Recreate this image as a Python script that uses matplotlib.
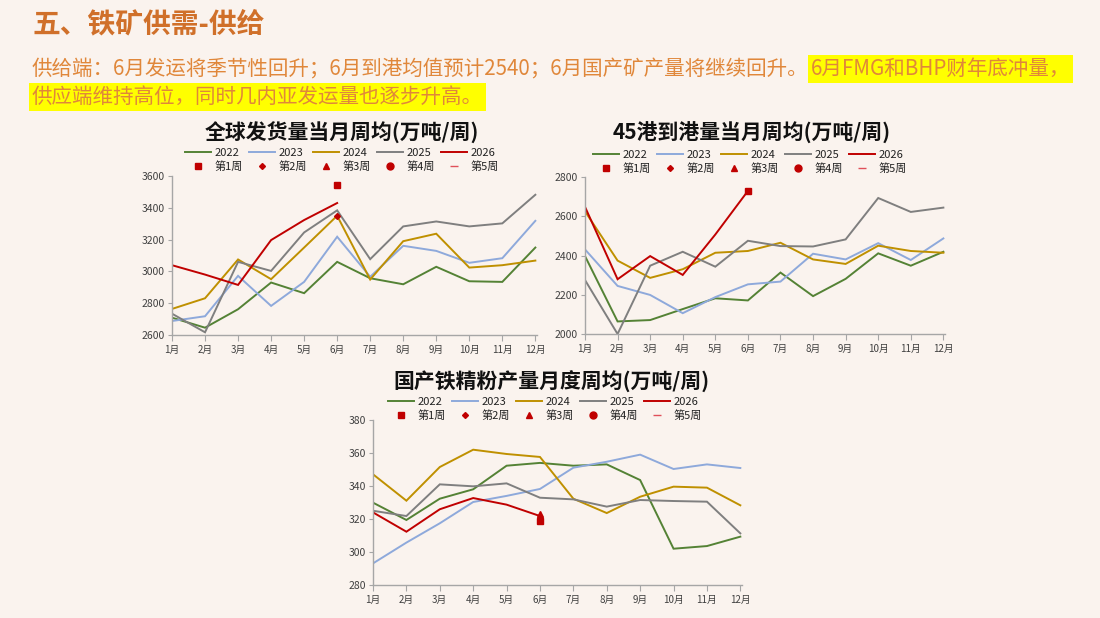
import numpy as np
import matplotlib
matplotlib.use('Agg')
import matplotlib.pyplot as plt
from matplotlib.lines import Line2D

plt.rcParams['font.family'] = ['Noto Sans CJK SC', 'DejaVu Sans']

## Data ########################

months = [f'{i}月' for i in range(1, 13)]
years = ['2022', '2023', '2024', '2025', '2026']
weeks = ['第1周', '第2周', '第3周', '第4周', '第5周']

# 全球发货量当月周均
ship_2022 = [2709, 2646, 2762, 2930, 2863, 3060, 2957, 2919, 3029, 2938, 2934, 3150]
ship_2023 = [2688, 2718, 2972, 2783, 2934, 3218, 2966, 3161, 3129, 3054, 3083, 3318]
ship_2024 = [2764, 2831, 3075, 2951, 3150, 3350, 2949, 3190, 3237, 3024, 3039, 3068]
ship_2025 = [2734, 2617, 3060, 3003, 3245, 3384, 3077, 3283, 3314, 3283, 3302, 3482]
ship_2026 = [3039, 2980, 2915, 3197, 3323, 3430]
ship_weeks = {'第1周': 3545, '第2周': 3346}

# 45港到港量当月周均
port_2022 = [2397, 2064, 2071, 2127, 2182, 2171, 2313, 2193, 2281, 2411, 2348, 2419]
port_2023 = [2431, 2245, 2199, 2106, 2188, 2253, 2267, 2409, 2380, 2463, 2377, 2487]
port_2024 = [2625, 2374, 2286, 2330, 2414, 2423, 2465, 2380, 2357, 2450, 2423, 2414]
port_2025 = [2275, 2000, 2348, 2419, 2343, 2475, 2448, 2446, 2482, 2693, 2622, 2644]
port_2026 = [2648, 2279, 2397, 2301, 2507, 2729]
port_weeks = {'第1周': 2729}

# 国产铁精粉产量月度周均
conc_2022 = [329.9, 319.4, 332.3, 338.0, 352.3, 354.0, 352.3, 353.1, 343.6, 302.0, 303.6, 309.3]
conc_2023 = [293.1, 305.7, 317.4, 330.3, 334.0, 338.2, 351.1, 354.7, 359.0, 350.3, 353.1, 350.9]
conc_2024 = [347.1, 331.1, 351.5, 362.0, 359.4, 357.6, 332.3, 323.6, 333.5, 339.6, 339.0, 328.3]
conc_2025 = [325.0, 321.8, 341.0, 339.8, 341.6, 332.9, 331.9, 327.5, 331.5, 330.9, 330.5, 311.3]
conc_2026 = [324.0, 312.3, 325.9, 332.7, 328.7, 321.8]
conc_weeks = {'第1周': 318.6, '第3周': 323.0}

## Styles ########################

bg = '#FAF3EE'
year_colors = ['#548235', '#8EA9DB', '#BF9000', '#7F7F7F', '#C00000']
week_style = {
    '第1周': dict(marker='s', ms=5),
    '第2周': dict(marker='D', ms=3),
    '第3周': dict(marker='^', ms=5),
    '第4周': dict(marker='o', ms=5),
    '第5周': dict(marker='_', ms=6),
}
red = '#C00000'
W, H = 1100, 618

fig = plt.figure(figsize=(11, 6.18), dpi=100, facecolor=bg)


def fx(px):
    return px / W


def fy(py):
    return 1 - py / H


def panel(box, title, title_xy, leg_xy, series, marks, ylim, yticks):
    l, t, r, b = box
    ax = fig.add_axes([fx(l), fy(b), fx(r - l), fy(t) - fy(b)])
    ax.set_facecolor(bg)
    x = np.arange(12)
    for vals, c in zip(series, year_colors):
        ax.plot(x[:len(vals)], vals, color=c, lw=1.4, solid_joinstyle='miter')
    for wk, v in marks.items():
        st = week_style[wk]
        ax.plot([5], [v], ls='none', color=red, marker=st['marker'], ms=st['ms'])
    ax.set_xlim(0, 11.05)
    ax.set_ylim(*ylim)
    ax.set_yticks(yticks)
    ax.set_xticks(x)
    ax.set_xticklabels(months)
    for s in ['top', 'right']:
        ax.spines[s].set_visible(False)
    for s in ['left', 'bottom']:
        ax.spines[s].set_color('#A6A6A6')
        ax.spines[s].set_linewidth(1.0)
    ax.tick_params(axis='x', labelsize=7, colors='#A6A6A6', labelcolor='#404040',
                   length=4, pad=3)
    ax.tick_params(axis='y', labelsize=7.5, colors='#A6A6A6', labelcolor='#404040',
                   length=3, pad=2)

    fig.text(fx(title_xy[0]), fy(title_xy[1]), title, ha='center', va='center',
             fontsize=15, fontweight='bold', color='#111111')

    handles, labels = [], []
    for i in range(5):
        handles.append(Line2D([], [], color=year_colors[i], lw=1.4))
        labels.append(years[i])
        st = week_style[weeks[i]]
        handles.append(Line2D([], [], ls='none', color=red if i < 4 else '#E0505A',
                              marker=st['marker'], ms=st['ms']))
        labels.append(weeks[i])
    fig.legend(handles, labels, ncol=5, loc='center',
               bbox_to_anchor=(fx(leg_xy[0]), fy(leg_xy[1])),
               frameon=False, fontsize=8, handlelength=2.3, handletextpad=0.35,
               columnspacing=0.55, labelspacing=0.3, borderpad=0,
               labelcolor='#222222')
    return ax


panel((172, 176, 537, 335), '全球发货量当月周均(万吨/周)', (342, 133), (342, 160),
      [ship_2022, ship_2023, ship_2024, ship_2025, ship_2026], ship_weeks,
      (2600, 3600), np.arange(2600, 3601, 200))

panel((585, 177, 945, 334), '45港到港量当月周均(万吨/周)', (752, 133), (750, 162),
      [port_2022, port_2023, port_2024, port_2025, port_2026], port_weeks,
      (2000, 2800), np.arange(2000, 2801, 200))

panel((373, 420, 742, 585), '国产铁精粉产量月度周均(万吨/周)', (551, 382), (545, 409),
      [conc_2022, conc_2023, conc_2024, conc_2025, conc_2026], conc_weeks,
      (280, 380), np.arange(280, 381, 20))

## Header ########################

title_color = '#D0702A'
sub_color = '#E0873A'
fig.text(fx(32), fy(24), '五、铁矿供需-供给', ha='left', va='center',
         fontsize=20, fontweight='bold', color=title_color)

seg1 = '供给端：6月发运将季节性回升；6月到港均值预计2540；6月国产矿产量将继续回升。'
seg2 = '6月FMG和BHP财年底冲量，'
line2 = '供应端维持高位，同时几内亚发运量也逐步升高。'

fs = 14.8
t1 = fig.text(fx(32), fy(69), seg1, ha='left', va='center', fontsize=fs, color=sub_color)
renderer = fig.canvas.get_renderer()
ext = t1.get_window_extent(renderer)
fig.text(ext.x1 / W + 0.002, fy(69), seg2, ha='left', va='center', fontsize=fs,
         color=sub_color, bbox=dict(facecolor='#FFFF00', edgecolor='none', pad=2))
fig.text(fx(32), fy(97), line2, ha='left', va='center', fontsize=fs, color=sub_color,
         bbox=dict(facecolor='#FFFF00', edgecolor='none', pad=2))

fig.savefig('out.png', dpi=100, facecolor=bg)
